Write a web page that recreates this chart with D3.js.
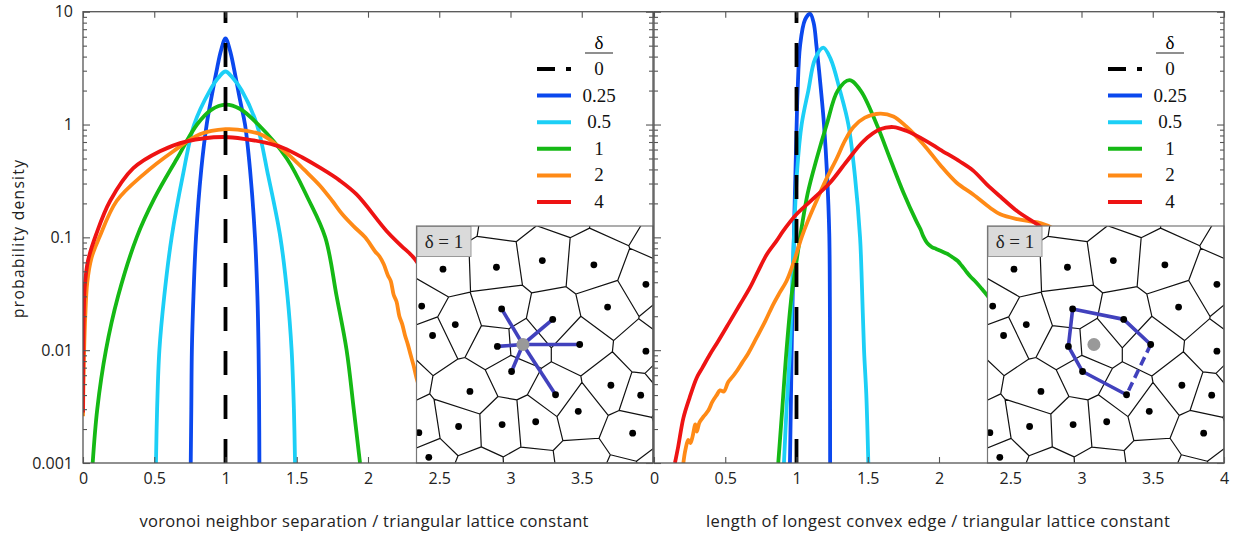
<!DOCTYPE html>
<html>
<head>
<meta charset="utf-8">
<script src="https://cdn.jsdelivr.net/npm/d3@7"></script>
<style>
  body { margin: 0; background: #fff; }
  svg { display: block; }
  .tick text { font-family: "Open Sans", "Noto Sans", sans-serif; font-size: 16px; fill: #222; }
</style>
</head>
<body>
<svg id="chart" width="1236" height="533"></svg>
<script>
// ---- categories (delta) ----
const deltas = ["0", "0.25", "0.5", "1", "2", "4"];

// ---- tick labels ----
const xTicksLeft = [0, 0.5, 1, 1.5, 2, 2.5, 3, 3.5, 4];
const xTicksRight = [0, 0.5, 1, 1.5, 2, 2.5, 3, 3.5, 4];
const yTicksMajor = [0.001, 0.01, 0.1, 1, 10];
const yTickLabels = ["0.001", "0.01", "0.1", "1", "10"];

// ---- voronoi neighbor separation: [separation, probability density] ----
const sep0 = [[1, 0.001], [1, 10]];
const sep025 = [[0.756,0.001],[0.760,0.003],[0.764,0.01],[0.775,0.03],[0.793,0.1],[0.83,0.4],[0.868,1],[0.896,1.6],[0.942,3.2],[0.968,4.5],[1.0,5.8],[1.032,4.5],[1.058,3.2],[1.104,1.6],[1.137,1],[1.172,0.4],[1.207,0.1],[1.224,0.03],[1.232,0.01],[1.236,0.003],[1.238,0.001]];
const sep05 = [[0.512,0.001],[0.52,0.003],[0.536,0.01],[0.57,0.03],[0.622,0.1],[0.70,0.35],[0.78,1],[0.89,2],[0.95,2.6],[1.0,2.95],[1.05,2.6],[1.114,2],[1.22,1],[1.30,0.35],[1.385,0.1],[1.435,0.03],[1.464,0.01],[1.48,0.003],[1.488,0.001]];
const sep1 = [[0.068,0.001],[0.10,0.003],[0.161,0.01],[0.246,0.03],[0.377,0.1],[0.50,0.22],[0.66,0.5],[0.8,1],[0.9,1.35],[1.0,1.5],[1.1,1.38],[1.23,1],[1.43,0.5],[1.58,0.22],[1.70,0.1],[1.78,0.03],[1.85,0.01],[1.90,0.003],[1.944,0.001]];
const sep2 = [[0,0.0026],[0.003,0.005],[0.008,0.01],[0.016,0.02],[0.03,0.04],[0.06,0.066],[0.115,0.1],[0.236,0.21],[0.423,0.36],[0.634,0.58],[0.82,0.82],[1.0,0.91],[1.15,0.88],[1.264,0.8],[1.36,0.66],[1.45,0.53],[1.55,0.4],[1.66,0.29],[1.75,0.21],[1.82,0.16],[1.9,0.125],[1.98,0.1],[2.05,0.075],[2.08,0.068],[2.11,0.058],[2.14,0.046],[2.16,0.041],[2.18,0.031],[2.20,0.027],[2.22,0.020],[2.24,0.017],[2.26,0.0135],[2.28,0.0112],[2.30,0.0090],[2.32,0.0073],[2.34,0.0057],[2.37,0.0043],[2.42,0.0028],[2.48,0.0017],[2.55,0.001]];
const sep4 = [[0,0.0028],[0.001,0.006],[0.003,0.012],[0.006,0.022],[0.012,0.036],[0.035,0.062],[0.092,0.106],[0.19,0.21],[0.353,0.41],[0.54,0.58],[0.728,0.71],[0.985,0.775],[1.15,0.74],[1.28,0.69],[1.406,0.62],[1.54,0.51],[1.663,0.414],[1.8,0.32],[1.92,0.24],[2.13,0.114],[2.23,0.085],[2.33,0.064],[2.45,0.035],[2.6,0.015],[2.75,0.005],[2.85,0.002],[2.90,0.001]];

// ---- length of longest convex edge: [length, probability density] ----
const edge0 = [[1, 0.001], [1, 10]];
const edge025 = [[0.954,0.001],[0.96,0.003],[0.966,0.01],[0.975,0.04],[0.982,0.107],[0.992,0.35],[1.001,1],[1.008,2],[1.025,5],[1.06,8.5],[1.095,9.6],[1.12,8.0],[1.14,5],[1.172,2],[1.193,1],[1.215,0.35],[1.23,0.107],[1.234,0.03],[1.235,0.01],[1.236,0.001]];
const edge05 = [[0.912,0.001],[0.93,0.003],[0.954,0.01],[0.97,0.04],[0.982,0.1],[1.005,0.4],[1.036,1],[1.083,2],[1.13,3.8],[1.188,4.8],[1.24,3.8],[1.305,2],[1.364,1],[1.41,0.35],[1.446,0.1],[1.456,0.05],[1.474,0.01],[1.49,0.004],[1.504,0.001]];
const edge1 = [[0.872,0.001],[0.90,0.003],[0.93,0.01],[0.965,0.03],[0.99,0.05],[1.025,0.1],[1.08,0.25],[1.142,0.5],[1.212,1],[1.29,2],[1.371,2.47],[1.45,2.0],[1.563,1],[1.656,0.5],[1.75,0.25],[1.84,0.14],[1.87,0.118],[1.89,0.102],[1.92,0.088],[1.95,0.082],[1.98,0.079],[2.01,0.076],[2.04,0.073],[2.07,0.070],[2.10,0.066],[2.13,0.062],[2.16,0.056],[2.19,0.050],[2.22,0.045],[2.26,0.040],[2.30,0.035],[2.335,0.031],[2.45,0.02],[2.6,0.011],[2.8,0.005]];
const edge2 = [[0.206,0.001],[0.22,0.0013],[0.24,0.0016],[0.255,0.0015],[0.27,0.0017],[0.29,0.0022],[0.30,0.0019],[0.32,0.0023],[0.35,0.0026],[0.38,0.0029],[0.41,0.0035],[0.44,0.0040],[0.463,0.0044],[0.49,0.0043],[0.52,0.0052],[0.55,0.0058],[0.58,0.0065],[0.62,0.0078],[0.66,0.0093],[0.72,0.0129],[0.78,0.018],[0.837,0.0255],[0.88,0.032],[0.93,0.041],[0.98,0.06],[1.036,0.1],[1.08,0.14],[1.14,0.21],[1.21,0.33],[1.282,0.5],[1.34,0.72],[1.40,0.95],[1.48,1.15],[1.586,1.25],[1.68,1.18],[1.77,0.96],[1.89,0.67],[2.007,0.44],[2.124,0.305],[2.24,0.24],[2.358,0.183],[2.43,0.16],[2.55,0.145],[2.65,0.138],[2.71,0.134],[2.8,0.12],[3.0,0.07],[3.3,0.025]];
const edge4 = [[0.147,0.001],[0.17,0.0014],[0.206,0.0025],[0.25,0.0038],[0.30,0.0057],[0.34,0.0070],[0.393,0.0092],[0.45,0.012],[0.533,0.018],[0.60,0.025],[0.674,0.036],[0.73,0.05],[0.79,0.07],[0.86,0.093],[0.907,0.114],[1.0,0.16],[1.118,0.22],[1.235,0.305],[1.352,0.47],[1.469,0.71],[1.586,0.906],[1.68,0.95],[1.77,0.88],[1.914,0.71],[2.007,0.6],[2.147,0.47],[2.24,0.39],[2.335,0.295],[2.43,0.23],[2.55,0.17],[2.71,0.125],[2.9,0.08],[3.2,0.03]];

// ---- voronoi inset (delta = 1), seed positions in lattice units ----
const insetSeeds = [[0.56,0.91],[1.69,0.87],[2.66,0.73],[3.75,0.82],[4.85,1.23],[0.11,1.69],[1.80,1.75],[2.88,1.97],[4.04,1.71],[0.82,2.08],[0.34,2.31],[1.71,2.54],[2.25,2.50],[3.45,2.50],[4.85,2.64],[2.01,3.07],[1.13,3.49],[2.94,3.56],[4.11,3.36],[4.74,3.57],[3.42,3.91],[0.89,4.23],[1.81,4.19],[2.52,4.13],[0.05,4.36],[4.57,4.37],[0.26,4.88]];
const outerSeeds = [[-0.3,-0.4],[0.9,-0.45],[1.85,-0.3],[3.1,-0.5],[4.3,-0.4],[5.3,0.2],[-0.6,0.9],[-0.5,3.2],[-0.6,5.3],[5.4,1.9],[5.3,3.1],[5.5,4.0],[5.2,5.2],[1.3,5.3],[2.4,5.25],[3.5,5.1],[4.3,5.45]];
const centerSeed = 12;
const neighborSeeds = [6, 7, 13, 17, 15, 11];

const colors = ["#000000", "#0b48ee", "#1ccff6", "#15b915", "#ff8a16", "#ee1313"];

// ---- layout ----
const svg = d3.select("#chart");
const yTop = 11.7, yBot = 463;
const y = d3.scaleLog().domain([0.001, 10]).range([yBot, yTop]);
const minorTicks = [];
[0.001, 0.01, 0.1, 1].forEach(d => { for (let k = 2; k <= 9; k++) minorTicks.push(d * k); });

const panels = [
  { x: d3.scaleLinear().domain([0, 4]).range([83, 653]), series: [sep0, sep025, sep05, sep1, sep2, sep4],
    ticks: xTicksLeft, hideLast: true, title: "voronoi neighbor separation / triangular lattice constant",
    titleX: 364, titleW: 449, legendX: 537, insetX: 416.5, insetMode: "star" },
  { x: d3.scaleLinear().domain([0, 4]).range([654, 1224]), series: [edge0, edge025, edge05, edge1, edge2, edge4],
    ticks: xTicksRight, hideLast: false, title: "length of longest convex edge / triangular lattice constant",
    titleX: 938, titleW: 464, legendX: 1108, insetX: 987.5, insetMode: "polygon" }
];

const defs = svg.append("defs");

panels.forEach((p, i) => {
  const [x0, x1] = p.x.range();
  defs.append("clipPath").attr("id", "plotclip" + i)
    .append("rect").attr("x", x0).attr("y", yTop).attr("width", x1 - x0).attr("height", yBot - yTop);

  const g = svg.append("g");
  const line = d3.line().x(d => p.x(d[0])).y(d => y(d[1])).curve(d3.curveCatmullRom.alpha(0.5));
  const cg = g.append("g").attr("clip-path", `url(#plotclip${i})`);
  // smooth curves first, delta-function line on top
  [1, 2, 3, 4, 5, 0].forEach(k => {
    cg.append("path").datum(p.series[k]).attr("d", line)
      .attr("fill", "none").attr("stroke", colors[k]).attr("stroke-width", 3.8)
      .attr("stroke-linejoin", "round")
      .attr("stroke-dasharray", k === 0 ? "24,20" : null);
  });

  // axes with inward ticks
  const ax = svg.append("g").attr("class", "axes");
  ax.append("g").attr("transform", `translate(0,${yBot})`)
    .call(d3.axisBottom(p.x).tickValues(p.ticks).tickSizeInner(-6).tickSizeOuter(0).tickPadding(10)
      .tickFormat(d => (p.hideLast && d === 4) ? "" : d3.format("")(d)));
  ax.append("g").attr("transform", `translate(0,${yTop})`)
    .call(d3.axisTop(p.x).tickValues(p.ticks).tickSizeInner(-6).tickSizeOuter(0).tickFormat(""));
  ax.append("g").attr("transform", `translate(${x0},0)`)
    .call(d3.axisLeft(y).tickValues(yTicksMajor).tickSizeInner(-7).tickSizeOuter(0).tickPadding(10)
      .tickFormat((d, j) => i === 0 ? yTickLabels[j] : ""));
  ax.append("g").attr("transform", `translate(${x0},0)`)
    .call(d3.axisLeft(y).tickValues(minorTicks).tickSizeInner(-4).tickSizeOuter(0).tickFormat(""));
  ax.append("g").attr("transform", `translate(${x1},0)`)
    .call(d3.axisRight(y).tickValues(yTicksMajor).tickSizeInner(-7).tickSizeOuter(0).tickFormat(""));
  ax.append("g").attr("transform", `translate(${x1},0)`)
    .call(d3.axisRight(y).tickValues(minorTicks).tickSizeInner(-4).tickSizeOuter(0).tickFormat(""));
  ax.selectAll(".domain").remove();
  ax.selectAll(".tick line").attr("stroke", "#555").attr("stroke-width", 1.1);

  // axis title
  svg.append("text").attr("x", p.titleX).attr("y", 527).attr("text-anchor", "middle")
    .attr("font-family", "'Open Sans', 'Noto Sans', sans-serif").attr("font-size", 16.5).attr("fill", "#222")
    .attr("textLength", p.titleW).attr("lengthAdjust", "spacing")
    .text(p.title);

  // legend
  const lg = svg.append("g");
  const tx = p.legendX + 62;
  lg.append("text").attr("x", tx).attr("y", 49).attr("text-anchor", "middle")
    .attr("font-family", "'Liberation Serif', 'DejaVu Serif', serif").attr("font-size", 19).text("δ");
  lg.append("line").attr("x1", tx - 14).attr("x2", tx + 14).attr("y1", 53).attr("y2", 53)
    .attr("stroke", "#333").attr("stroke-width", 1.1);
  deltas.forEach((d, k) => {
    const ly = 69 + k * 26.6;
    lg.append("line").attr("x1", p.legendX).attr("x2", p.legendX + 34).attr("y1", ly).attr("y2", ly)
      .attr("stroke", colors[k]).attr("stroke-width", 4)
      .attr("stroke-dasharray", k === 0 ? "18,11" : null);
    lg.append("text").attr("x", tx).attr("y", ly + 6).attr("text-anchor", "middle")
      .attr("font-family", "'Liberation Serif', 'DejaVu Serif', serif").attr("font-size", 19).attr("fill", "#111")
      .text(d);
  });
});

// y-axis title
svg.append("text").attr("transform", "translate(24,239) rotate(-90)").attr("text-anchor", "middle")
  .attr("font-family", "'Open Sans', 'Noto Sans', sans-serif").attr("font-size", 15.5).attr("fill", "#222")
  .attr("textLength", 158).attr("lengthAdjust", "spacing")
  .text("probability density");

// ---- voronoi insets ----
const insetW = 236.5, insetH = 237, insetY = 226;
panels.forEach((p, i) => {
  const sx = d3.scaleLinear().domain([0, 5]).range([0, insetW]);
  const sy = d3.scaleLinear().domain([0, 5]).range([0, insetH]);
  const g = svg.append("g").attr("transform", `translate(${p.insetX},${insetY})`);
  defs.append("clipPath").attr("id", "insetclip" + i)
    .append("rect").attr("width", insetW).attr("height", insetH);
  g.append("rect").attr("width", insetW).attr("height", insetH).attr("fill", "#fff");

  const pts = insetSeeds.concat(outerSeeds).map(d => [sx(d[0]), sy(d[1])]);
  const vor = d3.Delaunay.from(pts).voronoi([-80, -80, insetW + 80, insetH + 80]);
  const body = g.append("g").attr("clip-path", `url(#insetclip${i})`);
  body.append("path").attr("d", vor.render()).attr("fill", "none").attr("stroke", "#111").attr("stroke-width", 1.2);

  const P = k => [sx(insetSeeds[k][0]), sy(insetSeeds[k][1])];
  const c = P(centerSeed);
  const blue = "#4141bd";
  if (p.insetMode === "star") {
    neighborSeeds.forEach(k => {
      const q = P(k);
      body.append("line").attr("x1", c[0]).attr("y1", c[1]).attr("x2", q[0]).attr("y2", q[1])
        .attr("stroke", blue).attr("stroke-width", 3.6);
    });
  } else {
    // convex ring of neighbours; the edge 13 -> 17 is dashed
    const ring = [17, 15, 11, 6, 7, 13].map(P);
    body.append("path").attr("d", d3.line()(ring)).attr("fill", "none")
      .attr("stroke", blue).attr("stroke-width", 3.6).attr("stroke-linejoin", "round");
    body.append("path").attr("d", d3.line()([P(13), P(17)])).attr("fill", "none")
      .attr("stroke", blue).attr("stroke-width", 3.6).attr("stroke-dasharray", "9,5");
  }
  body.selectAll("circle.seed").data(insetSeeds.filter((d, k) => k !== centerSeed)).join("circle")
    .attr("class", "seed").attr("cx", d => sx(d[0])).attr("cy", d => sy(d[1])).attr("r", 3.4).attr("fill", "#000");
  body.append("circle").attr("cx", c[0]).attr("cy", c[1]).attr("r", 6.5).attr("fill", "#999");

  g.append("rect").attr("x", 0.5).attr("y", 0.5).attr("width", 54).attr("height", 30)
    .attr("fill", "#dadada").attr("stroke", "#999").attr("stroke-width", 1);
  g.append("text").attr("x", 27.5).attr("y", 22).attr("text-anchor", "middle")
    .attr("font-family", "'Liberation Serif', 'DejaVu Serif', serif").attr("font-size", 19).attr("fill", "#222")
    .text("δ = 1");
  g.append("rect").attr("width", insetW).attr("height", insetH).attr("fill", "none")
    .attr("stroke", "#777").attr("stroke-width", 1.2);
});

// ---- panel frames ----
panels.forEach(p => {
  const [x0, x1] = p.x.range();
  svg.append("rect").attr("x", x0).attr("y", yTop).attr("width", x1 - x0).attr("height", yBot - yTop)
    .attr("fill", "none").attr("stroke", "#555").attr("stroke-width", 1.3);
});
</script>
</body>
</html>
